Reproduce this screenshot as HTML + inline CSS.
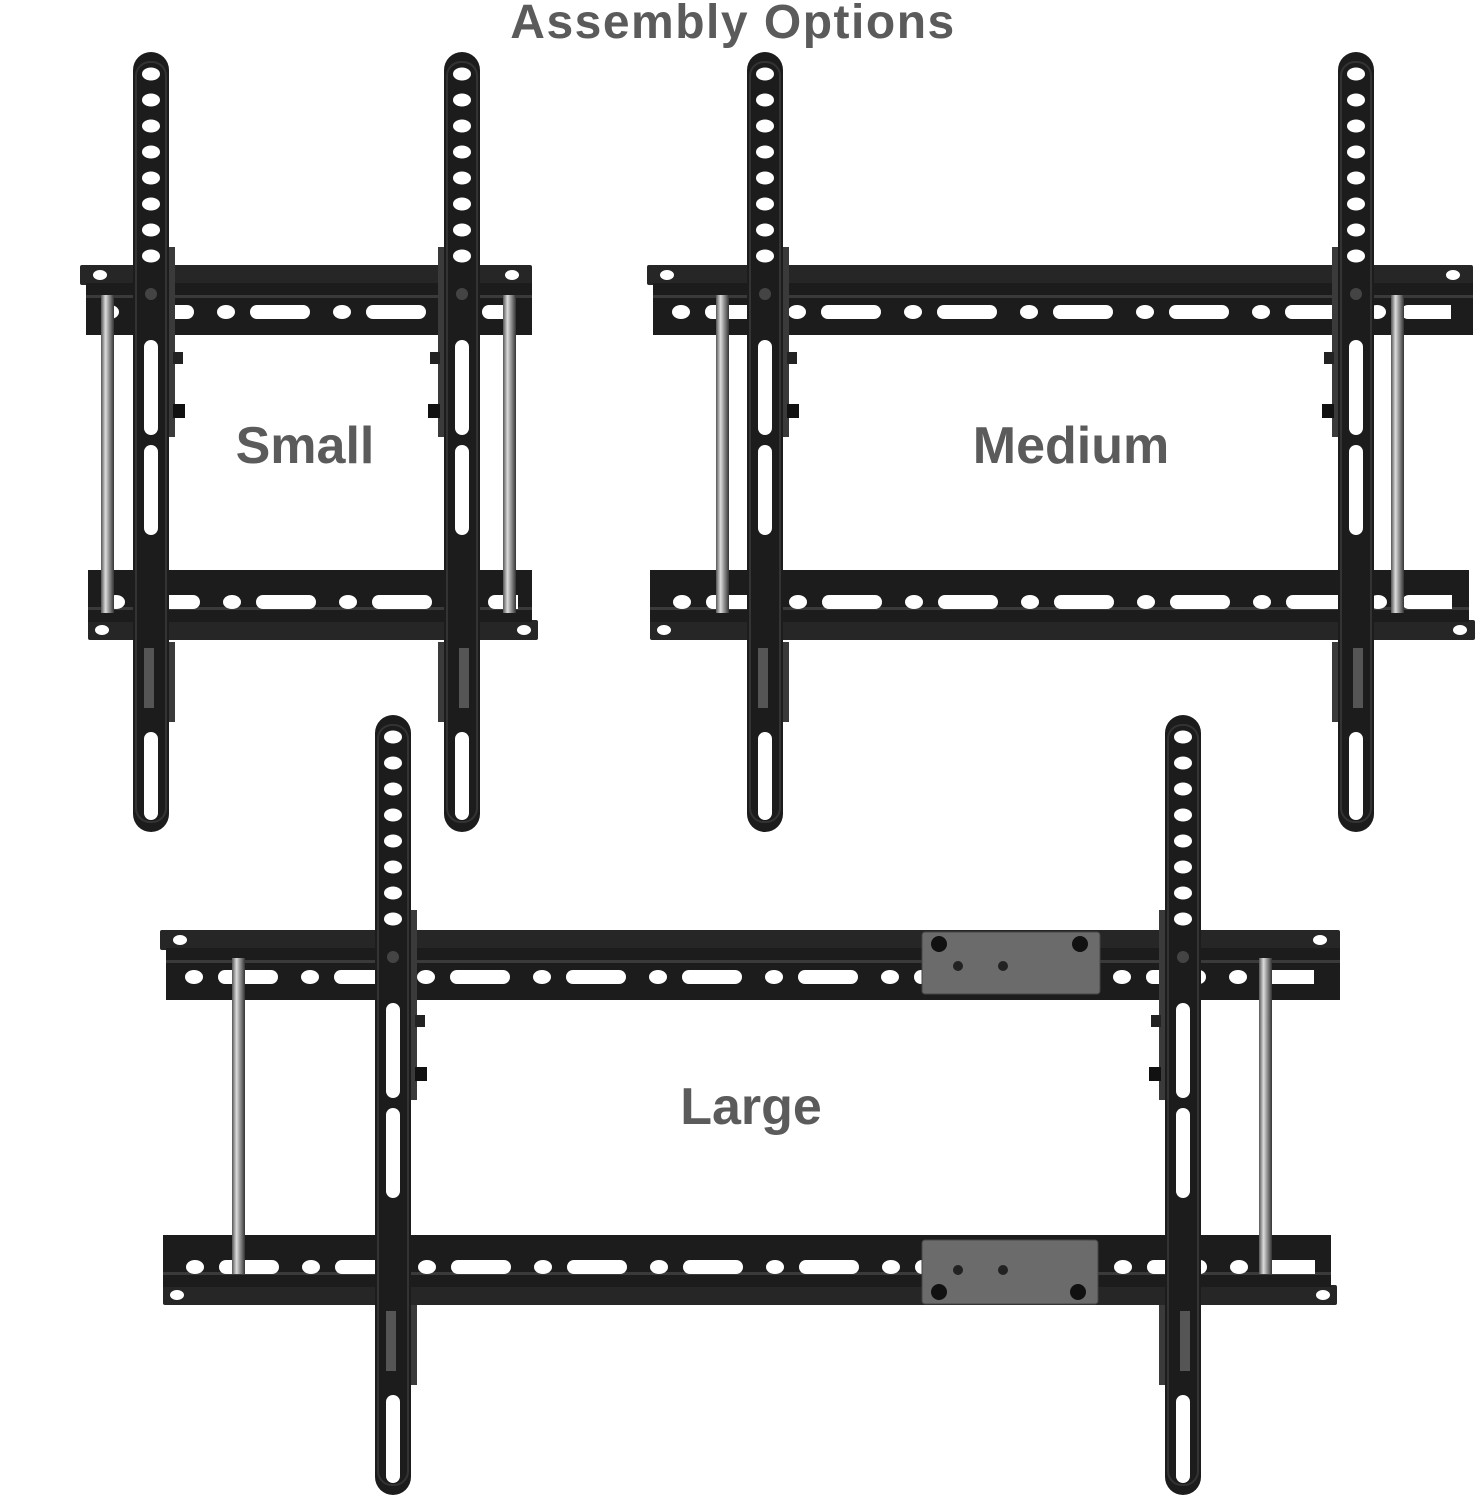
<!DOCTYPE html>
<html><head><meta charset="utf-8"><style>
html,body{margin:0;padding:0;background:#fff}
svg{display:block}
text{font-family:"Liberation Sans",Arial,sans-serif;font-weight:bold;fill:#5b5b5b}
</style></head><body>
<svg width="1481" height="1500" viewBox="0 0 1481 1500" xmlns="http://www.w3.org/2000/svg">
<defs>
  <pattern id="rh" patternUnits="userSpaceOnUse" width="116" height="16">
    <ellipse cx="10" cy="8" rx="9" ry="7" fill="#fff"/>
    <rect x="34" y="1" width="60" height="14" rx="7" fill="#fff"/>
  </pattern>
  <pattern id="ah" patternUnits="userSpaceOnUse" width="20" height="26">
    <ellipse cx="10" cy="10" rx="9" ry="6.5" fill="#fff"/>
  </pattern>
  <linearGradient id="rod" x1="0" x2="1" y1="0" y2="0">
    <stop offset="0" stop-color="#555"/><stop offset="0.35" stop-color="#ddd"/><stop offset="0.6" stop-color="#999"/><stop offset="1" stop-color="#333"/>
  </linearGradient>
  <g id="armbase">
    <rect x="0" y="0" width="36" height="780" rx="18" fill="#1c1c1c"/>
    <rect x="3" y="10" width="30" height="760" rx="14" fill="none" stroke="#333" stroke-width="2"/>
    <g transform="translate(8,12)"><rect x="0" y="0" width="20" height="208" fill="url(#ah)"/></g>
    <circle cx="18" cy="242" r="6" fill="#444"/>
    <rect x="11" y="288" width="14" height="95" rx="7" fill="#fff"/>
    <rect x="11" y="393" width="14" height="90" rx="7" fill="#fff"/>
    <rect x="11" y="680" width="14" height="88" rx="7" fill="#fff"/>
  </g>
  <g id="arm">
    <use href="#armbase"/>
    <rect x="11" y="596" width="10" height="60" fill="#555"/>
    <rect x="36" y="195" width="6" height="190" fill="#3a3a3a"/>
    <rect x="36" y="590" width="6" height="80" fill="#3a3a3a"/>
    <rect x="40" y="300" width="10" height="12" fill="#222"/>
    <rect x="40" y="352" width="12" height="14" fill="#111"/>
  </g>
  <g id="armr">
    <use href="#armbase"/>
    <rect x="15" y="596" width="10" height="60" fill="#555"/>
    <rect x="-6" y="195" width="6" height="190" fill="#3a3a3a"/>
    <rect x="-6" y="590" width="6" height="80" fill="#3a3a3a"/>
    <rect x="-14" y="300" width="10" height="12" fill="#222"/>
    <rect x="-16" y="352" width="12" height="14" fill="#111"/>
  </g>
</defs>

<text x="733" y="38" font-size="48" letter-spacing="1.5" text-anchor="middle">Assembly Options</text>

<!-- SMALL rails -->
<g transform="translate(80,265)">
  <rect x="0" y="0" width="452" height="20" rx="2" fill="#262626"/>
  <rect x="6" y="18" width="446" height="52" fill="#1c1c1c"/>
  <rect x="6" y="30" width="446" height="3" fill="#3a3a3a"/>
  <g transform="translate(20,39)"><rect x="0" y="0" width="412" height="16" fill="url(#rh)"/></g>
  <ellipse cx="20" cy="10" rx="7" ry="5" fill="#fff"/><ellipse cx="432" cy="10" rx="7" ry="5" fill="#fff"/>
</g>
<g transform="translate(88,640) scale(1,-1)">
  <rect x="0" y="0" width="450" height="20" rx="2" fill="#262626"/>
  <rect x="0" y="18" width="444" height="52" fill="#1c1c1c"/>
  <rect x="0" y="30" width="444" height="3" fill="#3a3a3a"/>
  <g transform="translate(18,30)"><rect x="0" y="0" width="412" height="16" fill="url(#rh)"/></g>
  <ellipse cx="14" cy="10" rx="7" ry="5" fill="#fff"/><ellipse cx="436" cy="10" rx="7" ry="5" fill="#fff"/>
</g>
<rect x="101" y="295" width="13" height="318" fill="url(#rod)"/>
<rect x="503" y="295" width="13" height="318" fill="url(#rod)"/>
<use href="#arm" x="133" y="52"/>
<use href="#armr" x="444" y="52"/>
<text x="305" y="463" font-size="52" text-anchor="middle">Small</text>

<!-- MEDIUM rails -->
<g transform="translate(647,265)">
  <rect x="0" y="0" width="826" height="20" rx="2" fill="#262626"/>
  <rect x="6" y="18" width="820" height="52" fill="#1c1c1c"/>
  <rect x="6" y="30" width="820" height="3" fill="#3a3a3a"/>
  <g transform="translate(24,39)"><rect x="0" y="0" width="780" height="16" fill="url(#rh)"/></g>
  <ellipse cx="20" cy="10" rx="7" ry="5" fill="#fff"/><ellipse cx="806" cy="10" rx="7" ry="5" fill="#fff"/>
</g>
<g transform="translate(650,640) scale(1,-1)">
  <rect x="0" y="0" width="825" height="20" rx="2" fill="#262626"/>
  <rect x="0" y="18" width="819" height="52" fill="#1c1c1c"/>
  <rect x="0" y="30" width="819" height="3" fill="#3a3a3a"/>
  <g transform="translate(22,30)"><rect x="0" y="0" width="780" height="16" fill="url(#rh)"/></g>
  <ellipse cx="14" cy="10" rx="7" ry="5" fill="#fff"/><ellipse cx="810" cy="10" rx="7" ry="5" fill="#fff"/>
</g>
<rect x="716" y="295" width="13" height="318" fill="url(#rod)"/>
<rect x="1391" y="295" width="13" height="318" fill="url(#rod)"/>
<use href="#arm" x="747" y="52"/>
<use href="#armr" x="1338" y="52"/>
<text x="1071" y="463" font-size="52" text-anchor="middle">Medium</text>

<!-- LARGE rails -->
<g transform="translate(160,930)">
  <rect x="0" y="0" width="1180" height="20" rx="2" fill="#262626"/>
  <rect x="6" y="18" width="1174" height="52" fill="#1c1c1c"/>
  <rect x="6" y="30" width="1174" height="3" fill="#3a3a3a"/>
  <g transform="translate(24,39)"><rect x="0" y="0" width="1130" height="16" fill="url(#rh)"/></g>
  <ellipse cx="20" cy="10" rx="7" ry="5" fill="#fff"/><ellipse cx="1160" cy="10" rx="7" ry="5" fill="#fff"/>
</g>
<g transform="translate(163,1305) scale(1,-1)">
  <rect x="0" y="0" width="1174" height="20" rx="2" fill="#262626"/>
  <rect x="0" y="18" width="1168" height="52" fill="#1c1c1c"/>
  <rect x="0" y="30" width="1168" height="3" fill="#3a3a3a"/>
  <g transform="translate(22,30)"><rect x="0" y="0" width="1130" height="16" fill="url(#rh)"/></g>
  <ellipse cx="14" cy="10" rx="7" ry="5" fill="#fff"/><ellipse cx="1160" cy="10" rx="7" ry="5" fill="#fff"/>
</g>
<!-- connector plates -->
<g>
  <rect x="922" y="932" width="178" height="62" rx="3" fill="#6b6b6b" stroke="#444"/>
  <circle cx="939" cy="944" r="8" fill="#111"/><circle cx="1080" cy="944" r="8" fill="#111"/>
  <circle cx="958" cy="966" r="5" fill="#222"/><circle cx="1003" cy="966" r="5" fill="#222"/>
  <rect x="922" y="1240" width="176" height="64" rx="3" fill="#6b6b6b" stroke="#444"/>
  <circle cx="939" cy="1292" r="8" fill="#111"/><circle cx="1078" cy="1292" r="8" fill="#111"/>
  <circle cx="958" cy="1270" r="5" fill="#222"/><circle cx="1003" cy="1270" r="5" fill="#222"/>
</g>
<rect x="232" y="958" width="13" height="316" fill="url(#rod)"/>
<rect x="1259" y="958" width="13" height="316" fill="url(#rod)"/>
<use href="#arm" x="375" y="715"/>
<use href="#armr" x="1165" y="715"/>
<text x="751" y="1124" font-size="52" text-anchor="middle">Large</text>
</svg>
</body></html>
